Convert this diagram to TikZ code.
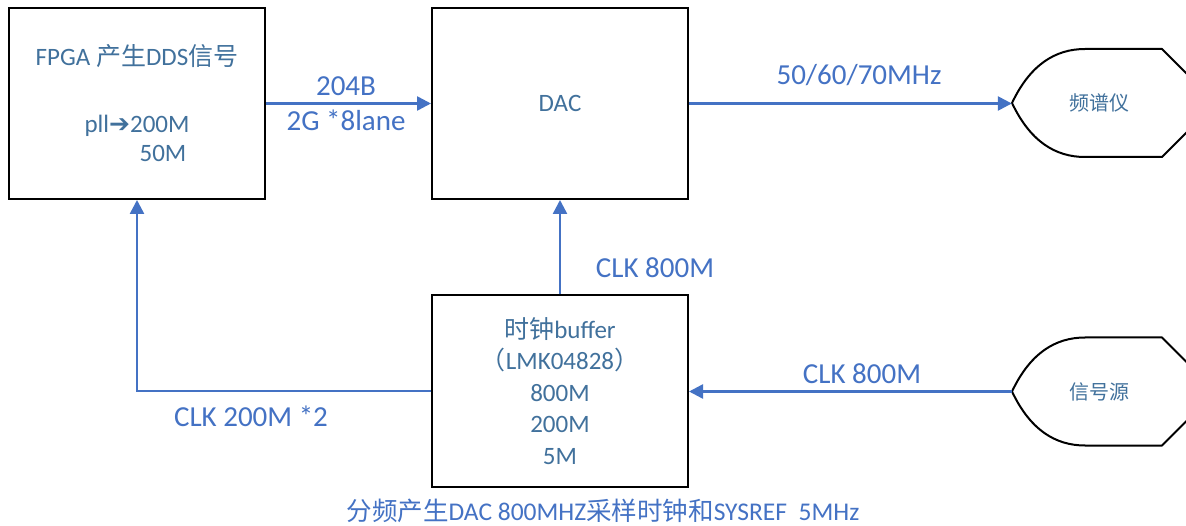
\documentclass[tikz,border=0pt]{standalone}
\usepackage{fontspec}
\setmainfont{Carlito}
\newfontfamily\cjk{Noto Sans CJK SC}
\newfontfamily\symf{DejaVu Sans}
\usetikzlibrary{arrows.meta}
\definecolor{boxtext}{HTML}{41719C}
\definecolor{lbl}{HTML}{4472C4}
\newcommand\dispshape[1]{%
  \draw[line width=2pt,line join=round] (1012,#1) .. controls (1030,#1-38) and (1055,#1-54) .. (1085,#1-54) -- (1162,#1-54)
   -- (1205,#1-11) -- (1205,#1+11) -- (1162,#1+54) -- (1085,#1+54)
   .. controls (1055,#1+54) and (1030,#1+38) .. (1012,#1) -- cycle;}
\begin{document}
\begin{tikzpicture}[x=1pt,y=-1pt,
  blk/.style={draw=black,line width=2pt,minimum width=256pt,minimum height=191pt,inner sep=0pt,
    text=boxtext,font=\fontsize{25}{29}\selectfont,align=center},
  dtxt/.style={minimum width=174pt,minimum height=108pt,inner sep=0pt,text=boxtext,font=\fontsize{20}{24}\selectfont\cjk},
  lab/.style={text=lbl,font=\fontsize{29}{32}\selectfont,inner sep=0pt},
  conn/.style={draw=lbl,line width=2.5pt,-{Triangle[length=14pt,width=14pt]}}]
\useasboundingbox (0,0) rectangle (1186,526);
\fill[white] (0,0) rectangle (1186,526);
\begin{scope}
\clip (0,0) rectangle (1186,526);
\node[blk] (fpga) at (137,103.5) {FPGA {\cjk 产生}DDS{\cjk 信号}\\[38pt]pll{\symf ➔}200M\\\hspace*{52pt}50M};
\node[blk] (dac) at (560,103.5) {DAC};
\node[blk,font=\fontsize{25}{31.5}\selectfont] (buf) at (560,391) {{\cjk 时钟}buffer\\{\cjk （}LMK04828{\cjk ）}\\800M\\200M\\5M};

\dispshape{103}
\node[dtxt] (spec) at (1099,103) {频谱仪};
\dispshape{391.5}
\node[dtxt] (src) at (1099,391.5) {信号源};

\draw[conn] (fpga) -- (dac);
\draw[conn] (dac.east) -- (dac.east -| spec.west);
\draw[conn] (buf.north) -- (dac.south);
\draw[conn] (src.west) -- (src.west -| buf.east);
\draw[conn] (buf.west) -| (fpga.south);

\node[lab] (l1) at (346,86) {204B};
\node[lab] (l2) at (346,120) {2G *8lane};
\node[lab] (l3) at (859,75) {50/60/70MHz};
\node[lab] (l4) at (655,268) {CLK 800M};
\node[lab] (l5) at (862,374) {CLK 800M};
\node[lab] (l6) at (251,416) {CLK 200M *2};
\node[text=lbl,font=\fontsize{25.5}{28}\selectfont,inner sep=0pt] (note) at (603,511)
  {{\cjk 分频产生}DAC 800MHZ{\cjk 采样时钟和}SYSREF\ \ 5MHz};
\end{scope}
\end{tikzpicture}
\end{document}
